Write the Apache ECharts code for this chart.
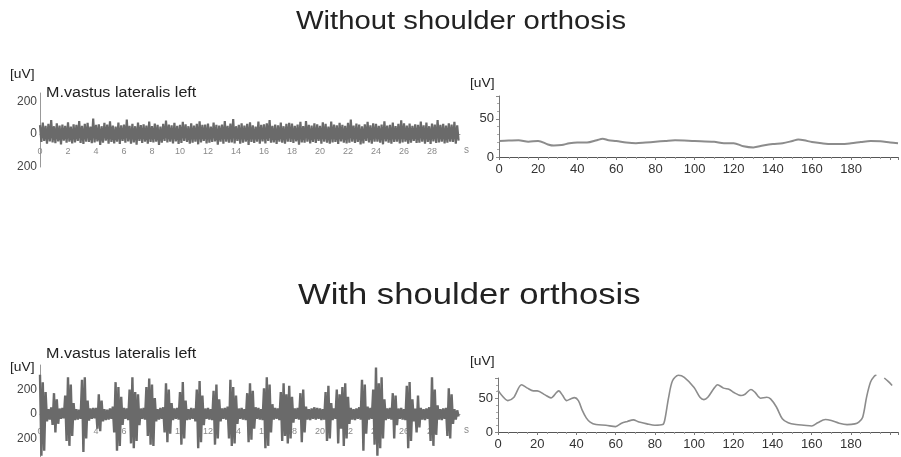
<!DOCTYPE html>
<html><head><meta charset="utf-8">
<script src="https://cdn.jsdelivr.net/npm/echarts@6/dist/echarts.min.js"></script>
<style>html,body{margin:0;padding:0;background:#fff}#c{width:901px;height:457px}</style>
</head><body><div id="c"></div>
<script>
// ---------- data ----------
const titles = ['Without shoulder orthosis', 'With shoulder orthosis'];
const muscleName = 'M.vastus lateralis left';
const unitLabel = '[uV]';
const timeUnit = 's';
const sampleStep = 0.1; // seconds between raw samples

// raw EMG, without orthosis (uV), one row = 1 s
const rawWithout = [
  55,-48,70,-42,50,-58,62,-45,85,-50,
  48,-55,66,-44,52,-62,58,-40,50,-52,
  72,-46,45,-56,60,-50,56,-42,80,-54,
  50,-60,62,-46,68,-48,46,-55,95,-50,
  56,-44,60,-66,48,-52,68,-40,58,-58,
  78,-48,52,-56,46,-46,70,-60,54,-42,
  58,-52,88,-45,50,-58,62,-50,48,-64,
  70,-42,55,-54,60,-46,52,-58,76,-48,
  48,-50,64,-46,56,-66,46,-52,62,-42,
  82,-50,58,-46,54,-56,68,-44,50,-60,
  56,-54,74,-42,60,-48,48,-58,66,-52,
  52,-46,62,-62,78,-50,56,-42,58,-56,
  64,-52,46,-48,70,-44,56,-64,52,-46,
  58,-58,80,-46,50,-52,64,-50,92,-56,
  48,-42,56,-58,66,-52,52,-46,62,-66,
  72,-48,54,-54,46,-46,76,-58,56,-44,
  60,-56,66,-42,86,-52,50,-50,58,-60,
  54,-46,70,-52,48,-58,62,-46,68,-48,
  64,-54,50,-44,58,-64,74,-50,48,-52,
  80,-46,56,-56,52,-48,66,-54,60,-42,
  50,-58,72,-46,62,-52,46,-58,76,-50,
  58,-48,54,-60,68,-44,56,-52,50,-56,
  68,-52,88,-46,52,-54,64,-48,58,-62,
  48,-56,60,-42,74,-50,54,-58,66,-46,
  62,-46,50,-52,58,-62,78,-44,52,-52,
  56,-58,70,-48,48,-46,62,-56,84,-50,
  66,-46,52,-58,64,-52,50,-42,60,-54,
  56,-52,76,-46,54,-58,70,-48,48,-60,
  64,-44,58,-54,86,-50,56,-46,62,-56,
  52,-52,66,-46,58,-48,74,-58,54,-40
];

// raw EMG, with orthosis (uV), one row = 1 s
const rawWith = [
  320,-340,260,-300,180,-60,40,-45,55,-90,
  170,-150,120,-80,45,-40,50,-35,150,-220,
  300,-260,240,-180,90,-50,40,-45,35,-40,
  280,-310,300,-200,110,-55,45,-40,50,-35,
  50,-120,160,-140,110,-60,40,-50,35,-45,
  45,-40,60,-150,260,-300,220,-260,140,-90,
  50,-40,45,-50,200,-240,300,-280,180,-220,
  160,-90,45,-40,50,-45,220,-180,290,-250,
  240,-260,130,-60,40,-45,50,-40,55,-150,
  250,-230,200,-160,90,-50,45,-40,50,-45,
  180,-250,260,-200,110,-50,40,-45,50,-40,
  45,-60,200,-280,270,-230,150,-90,45,-40,
  50,-45,40,-50,190,-250,240,-200,120,-60,
  45,-40,50,-45,60,-200,280,-260,220,-240,
  150,-80,45,-40,50,-45,40,-50,170,-230,
  250,-210,190,-120,55,-40,50,-45,40,-50,
  210,-280,300,-260,240,-150,80,-45,50,-40,
  45,-50,180,-220,250,-180,160,-240,230,-200,
  140,-70,45,-40,50,-45,170,-230,200,-150,
  60,-45,40,-50,45,-40,55,-45,50,-40,
  45,-50,40,-45,180,-220,230,-200,90,-50,
  45,-40,200,-240,160,-120,220,-260,250,-200,
  140,-80,50,-45,40,-50,45,-40,55,-45,
  280,-300,240,-160,60,-45,50,-40,200,-250,
  380,-340,250,-280,300,-200,120,-50,45,-40,
  50,-45,170,-200,150,-90,45,-40,50,-45,
  40,-50,230,-280,260,-220,120,-60,45,-150,
  150,-110,50,-45,40,-50,45,-40,55,-220,
  300,-260,200,-170,70,-45,40,-50,45,-40,
  50,-180,210,-200,160,-80,40,-45,30,-20
];

// smoothed envelope (uV), without orthosis
const envWithoutX = [0,5,10,15,20,25,28,32,36,40,45,50,53,56,60,65,70,75,80,85,90,100,110,115,120,125,130,135,140,145,150,153,156,160,165,170,175,180,185,190,195,200,204];
const envWithoutY = [21,21.5,22,20,21,16.5,15,15.6,18,19,19,22,24,22,21,19,18,19,20,21,22,21,20,18,18,14,12.5,15,17,18,21,23,22,19.6,18,17,17,18,19.6,21,20.5,19,18];

// smoothed envelope (uV), with orthosis
const envWithX = [0,2,5,8,12,15,18,20,24,27,30,31,33,35,37,39,41,43,45,47,50,55,60,63,66,69,72,76,80,84,85,87,89,92,95,100,103,105,107,110,112,115,118,120,124,126,129,131,134,137,139,142,145,148,152,156,160,163,167,170,174,178,182,184,186,188,190,192,193,195,197,199,201];
const envWithY = [62,54,46.5,51,70,65,61,61,55,50.5,59,61,54,46.5,49,51,46.5,32,21,14.7,11,10,8,13,15.7,18,14.7,12,10,11,17,51,76,84,81,66,51.5,48,51.5,64,70,65,63,59,54,56,63,59,50,51.5,49,37,19.6,13.7,11,10,9,13.7,18.6,17,13,11,12,14.7,22,52,74,83,84,null,80,75,69];

// ---------- chart ----------
const toPairs = arr => arr.map((v, i) => [+(i * sampleStep).toFixed(2), v]);
const zip = (xs, ys) => xs.map((x, i) => [x, ys[i]]);

const FONT = 'Liberation Sans, Arial, sans-serif';
const chart = echarts.init(document.getElementById('c'), null, {renderer: 'canvas'});

// left panels: x axis drawn through the zero line (offset from grid bottom)
const leftX = (gi, off) => ({
  gridIndex: gi, type: 'value', min: 0, max: 30, interval: 2,
  offset: off,
  axisLine: {onZero: false, lineStyle: {color: '#999', width: 1}},
  axisTick: {show: false},
  splitLine: {show: false},
  axisLabel: {fontSize: 9, color: '#8a8a8a', margin: 13, fontFamily: FONT,
    formatter: v => (v < 30 ? String(v) : '')},
  name: timeUnit, nameLocation: 'end', nameGap: 4,
  nameTextStyle: {fontSize: 10, color: '#8a8a8a', verticalAlign: 'top', padding: [11, 0, 0, 0], fontFamily: FONT}
});
const rightX = (gi) => ({
  gridIndex: gi, type: 'value', min: 0, max: 204, interval: 20,
  axisLine: {lineStyle: {color: '#555', width: 1}},
  axisTick: {show: true, length: 3, lineStyle: {color: '#777'}},
  minorTick: {show: true, splitNumber: 4, length: 2, lineStyle: {color: '#999'}},
  splitLine: {show: false},
  axisLabel: {fontSize: 13, color: '#333', margin: 6, fontFamily: FONT,
    formatter: v => (v <= 180 ? String(v) : '')}
});
const leftY = (gi, min, max) => ({
  gridIndex: gi, type: 'value', min: min, max: max, interval: 200,
  axisLine: {show: true, onZero: false, lineStyle: {color: '#999'}},
  axisTick: {show: false},
  splitLine: {show: false},
  axisLabel: {fontSize: 12, color: '#444', margin: 3, fontFamily: FONT, showMaxLabel: false,
    formatter: v => (Math.abs(v) > 200 ? '' : String(Math.abs(v)))}
});
const rightY = (gi) => ({
  gridIndex: gi, type: 'value', min: 0, max: 80, interval: 50,
  axisLine: {show: true, lineStyle: {color: '#777'}},
  axisTick: {show: true, length: 3, lineStyle: {color: '#888'}},
  minorTick: {show: true, splitNumber: 5, length: 2, lineStyle: {color: '#aaa'}},
  splitLine: {show: false},
  axisLabel: {fontSize: 13, color: '#333', margin: 5, fontFamily: FONT, showMaxLabel: false}
});

const txt = (text, x, y, size, sx, color) => ({
  type: 'text', x: x, y: y, scaleX: sx, z: 100,
  style: {text: text, fontSize: size, fontFamily: FONT, fill: color || '#222',
    textAlign: 'left', textVerticalAlign: 'middle', verticalAlign: 'middle'}
});

chart.setOption({
  animation: false,
  backgroundColor: '#fff',
  grid: [
    {left: 40, width: 420, top: 93, height: 74, outerBoundsMode: 'none', containLabel: false},
    {left: 499, width: 399, top: 96, height: 61, outerBoundsMode: 'none', containLabel: false},
    {left: 40, width: 420, top: 365, height: 98, outerBoundsMode: 'none', containLabel: false},
    {left: 498, width: 400, top: 378, height: 54, outerBoundsMode: 'none', containLabel: false}
  ],
  xAxis: [leftX(0, -33), rightX(1), leftX(2, -49), rightX(3)],
  yAxis: [leftY(0, -200, 250), rightY(1), leftY(2, -400, 400), rightY(3)],
  series: [
    {type: 'line', xAxisIndex: 0, yAxisIndex: 0, data: toPairs(rawWithout),
      showSymbol: false, lineStyle: {color: '#6a6a6a', width: 2.2}},
    {type: 'line', xAxisIndex: 1, yAxisIndex: 1, data: zip(envWithoutX, envWithoutY),
      showSymbol: false, smooth: 0.3, lineStyle: {color: '#8c8c8c', width: 2}},
    {type: 'line', xAxisIndex: 2, yAxisIndex: 2, data: toPairs(rawWith),
      showSymbol: false, lineStyle: {color: '#6a6a6a', width: 2.4}},
    {type: 'line', xAxisIndex: 3, yAxisIndex: 3, data: zip(envWithX, envWithY),
      showSymbol: false, smooth: 0.3, clip: false, connectNulls: false,
      lineStyle: {color: '#8c8c8c', width: 1.6}}
  ],
  graphic: [
    txt(titles[0], 296, 22, 25, 1.17, '#222'),
    txt(titles[1], 298, 296, 29.6, 1.17, '#222'),
    txt(muscleName, 46, 93, 14, 1.15, '#222'),
    txt(muscleName, 46, 354, 14, 1.15, '#222'),
    txt(unitLabel, 10, 75, 12, 1.15, '#222'),
    txt(unitLabel, 10, 368, 12, 1.15, '#222'),
    txt(unitLabel, 470, 84, 12, 1.15, '#222'),
    txt(unitLabel, 470, 362, 12, 1.15, '#222')
  ]
});
</script>
</body></html>
